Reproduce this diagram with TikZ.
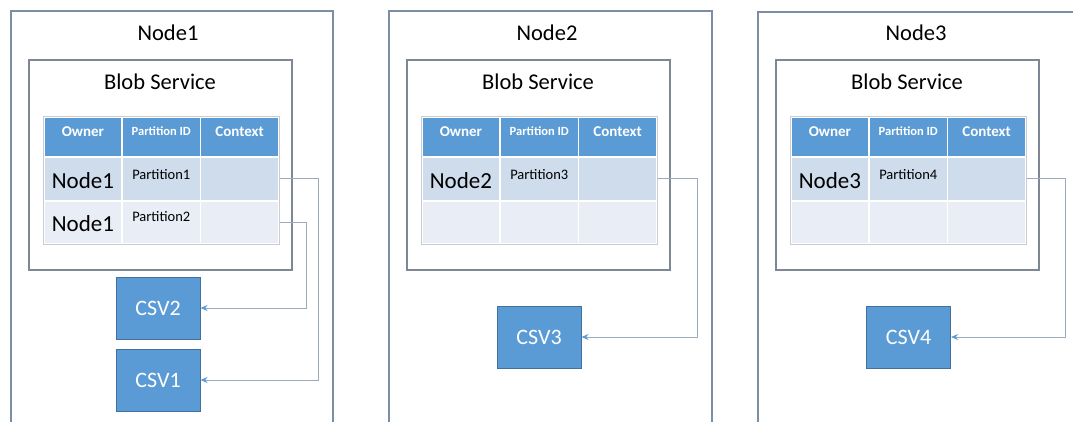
\documentclass[tikz,border=0pt]{standalone}
\usepackage{fontspec}
\setmainfont{Carlito}
\usetikzlibrary{arrows.meta}

\definecolor{framec}{HTML}{7C8EA3}
\definecolor{blobc}{HTML}{7D8894}
\definecolor{headc}{HTML}{5B9BD5}
\definecolor{rowac}{HTML}{CFDCEC}
\definecolor{rowbc}{HTML}{E9EEF6}
\definecolor{csvline}{HTML}{41719C}
\definecolor{linkc}{HTML}{9DAABA}
\definecolor{tabline}{HTML}{C9CCD0}

\tikzset{
  frame/.style={draw=framec, line width=1.4pt},
  blob/.style={draw=blobc, line width=2pt, fill=white},
  cell/.style={draw=white, line width=1.6pt, minimum width=78.3pt, inner sep=0pt, anchor=north west},
  head/.style={cell, fill=headc, minimum height=40pt},
  rowa/.style={cell, fill=rowac, minimum height=44pt},
  rowb/.style={cell, fill=rowbc, minimum height=43pt},
  tabedge/.style={draw=tabline, line width=1pt},
  title/.style={font=\fontsize{22.5}{25}\selectfont, text=black},
  headtxt/.style={font=\fontsize{15}{17}\selectfont\bfseries, text=white},
  pidtxt/.style={font=\fontsize{12.5}{14}\selectfont\bfseries, text=white},
  ownertxt/.style={font=\fontsize{23}{25}\selectfont, text=black},
  parttxt/.style={font=\fontsize{14.5}{16}\selectfont, text=black},
  csv/.style={draw=csvline, fill=headc, line width=1pt, minimum width=84pt, minimum height=62pt,
    inner sep=0pt, text=white, font=\fontsize{22}{24}\selectfont},
  link/.style={draw=linkc, line width=1pt, -{Stealth[length=7pt, width=6pt, color=headc]}},
}

% One blob service: #1 = left edge of the host frame, #2 = name prefix
\newcommand\blobunit[2]{%
  \draw[blob] ({#1+18},60) rectangle ({#1+281},270);
  \node[title] (#2blob) at ({#1+149},82) {Blob Service};
  \foreach \c in {1,2,3} {
    \node[head] (#2h\c) at ({#1+32+(\c-1)*78.3},116) {};
    \node[rowa] (#2a\c) at ({#1+32+(\c-1)*78.3},156) {};
    \node[rowb] (#2b\c) at ({#1+32+(\c-1)*78.3},200) {};
  }
  \draw[tabedge] (#2h1.north west) rectangle (#2b3.south east);
  \node[headtxt] (#2owner) at ([yshift=5pt]#2h1.center) {Owner};
  \node[pidtxt]  (#2pid)   at ([yshift=6pt]#2h2.center) {Partition ID};
  \node[headtxt] (#2ctx)   at ([yshift=5pt]#2h3.center) {Context};
}

\begin{document}
\begin{tikzpicture}[x=1pt, y=-1pt]
  \useasboundingbox (0,0) rectangle (1073,421);

  % host frames (open at the bottom)
  \draw[frame] (11,425) -- (11,11) -- (333,11) -- (333,425);
  \draw[frame] (389,425) -- (389,11) -- (712,11) -- (712,425);
  \draw[frame] (758,425) -- (758,12) -- (1076,12);

  \node[title] (node1) at (168,33) {Node1};
  \node[title] (node2) at (547,33) {Node2};
  \node[title] (node3) at (916,33) {Node3};

  \blobunit{11}{p}
  \blobunit{389}{q}
  \blobunit{758}{r}

  % table rows
  \node[ownertxt] (pown1) at ([yshift=-2pt]pa1.center) {Node1};
  \node[parttxt]  (ppart1) at ([yshift=4pt]pa2.center) {Partition1};
  \node[ownertxt] (pown2) at ([yshift=-1pt]pb1.center) {Node1};
  \node[parttxt]  (ppart2) at ([yshift=6pt]pb2.center) {Partition2};

  \node[ownertxt] (qown1) at ([yshift=-2pt]qa1.center) {Node2};
  \node[parttxt]  (qpart1) at ([yshift=4pt]qa2.center) {Partition3};

  \node[ownertxt] (rown1) at ([yshift=-2pt]ra1.center) {Node3};
  \node[parttxt]  (rpart1) at ([yshift=4pt]ra2.center) {Partition4};

  % cluster shared volumes
  \node[csv] (csv2) at (158,308) {CSV2};
  \node[csv] (csv1) at (158,380) {CSV1};
  \node[csv] (csv3) at (539,337) {CSV3};
  \node[csv] (csv4) at (908.5,337) {CSV4};

  % partition -> volume links
  \draw[link] (pa3.east) -- ++(39,0) |- (csv1.east);
  \draw[link] (pb3.east) -- ++(27,0) |- (csv2.east);
  \draw[link] (qa3.east) -- ++(40,0) |- (csv3.east);
  \draw[link] (ra3.east) -- ++(39,0) |- (csv4.east);
\end{tikzpicture}
\end{document}
